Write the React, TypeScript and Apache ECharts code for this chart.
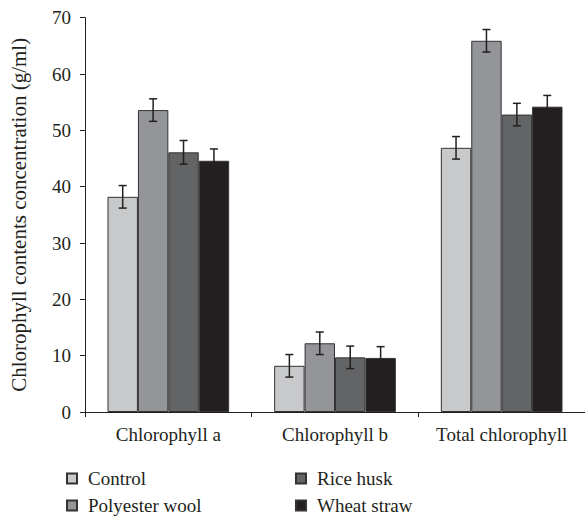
import React, { useEffect, useRef } from "react";
import * as echarts from "echarts";

const categories = ["Chlorophyll a", "Chlorophyll b", "Total chlorophyll"];
const seriesNames = ["Control", "Polyester wool", "Rice husk", "Wheat straw"];
const legendOrder = ["Control", "Rice husk", "Polyester wool", "Wheat straw"];
const control = [38.2, 8.2, 46.9];
const polyester = [53.6, 12.2, 65.9];
const riceHusk = [46.1, 9.7, 52.8];
const wheatStraw = [44.6, 9.6, 54.2];
const controlErr = [2.0, 2.0, 2.0];
const polyesterErr = [2.0, 2.0, 2.0];
const riceHuskErr = [2.1, 2.0, 2.0];
const wheatStrawErr = [2.1, 2.0, 2.0];
const yTicks = [0, 10, 20, 30, 40, 50, 60, 70];

const colors = ["#c8c9cb", "#939598", "#636466", "#231f20"];
const INK = "#231f20";
const FONT = "'Liberation Serif', 'DejaVu Serif', serif";
const CAT_GAP = 0.27;

export default function App() {
  const ref = useRef<HTMLDivElement>(null);
  useEffect(() => {
    if (!ref.current) return;
    const chart = echarts.init(ref.current, null, { renderer: "svg" });
    const values = [control, polyester, riceHusk, wheatStraw];
    const errs = [controlErr, polyesterErr, riceHuskErr, wheatStrawErr];
    const errData: number[][] = [];
    values.forEach((vals, si) => {
      vals.forEach((v, ci) => errData.push([ci, si, v, errs[si][ci]]));
    });
    const barSeries = seriesNames.map((name, i) => ({
      name,
      type: "bar",
      data: values[i],
      barGap: "0%",
      barCategoryGap: `${CAT_GAP * 100}%`,
      itemStyle: { color: colors[i], borderColor: "#333333", borderWidth: 1 },
      emphasis: { disabled: true },
    }));
    chart.setOption({
      animation: false,
      backgroundColor: "#ffffff",
      textStyle: { fontFamily: FONT, color: INK },
      grid: { left: 74, right: 0, top: 17.7, bottom: 105 },
      legend: {
        data: legendOrder,
        orient: "horizontal",
        left: 66,
        top: 469,
        width: 470,
        padding: 0,
        itemWidth: 10,
        itemHeight: 10,
        itemGap: 8,
        icon: "rect",
        selectedMode: false,
        textStyle: {
          fontFamily: FONT,
          fontSize: 19,
          color: INK,
          lineHeight: 19,
          width: 199,
          padding: [0, 0, 0, 6],
        },
      },
      xAxis: {
        type: "category",
        data: categories,
        axisLine: { lineStyle: { color: INK, width: 1 } },
        axisTick: { show: true, length: 5, lineStyle: { color: INK } },
        axisLabel: { fontFamily: FONT, fontSize: 19, color: INK, margin: 13, interval: 0 },
      },
      yAxis: {
        type: "value",
        min: 0,
        max: 70,
        interval: 10,
        name: "Chlorophyll contents concentration (g/ml)",
        nameLocation: "middle",
        nameGap: 56,
        nameTextStyle: { fontFamily: FONT, fontSize: 21, color: INK },
        axisLine: { show: true, lineStyle: { color: INK, width: 1 } },
        axisTick: { show: true, length: 5, lineStyle: { color: INK } },
        axisLabel: {
          fontFamily: FONT,
          fontSize: 19,
          color: INK,
          margin: 14,
          formatter: (v: number) => (yTicks.includes(v) ? String(v) : ""),
        },
        splitLine: { show: false },
      },
      series: [
        ...barSeries,
        {
          type: "custom",
          name: "err",
          data: errData,
          encode: { x: 0, y: 2 },
          z: 10,
          silent: true,
          renderItem: (params: any, api: any) => {
            const ci = api.value(0);
            const si = api.value(1);
            const mean = api.value(2);
            const err = api.value(3);
            const band = api.size([1, 0])[0];
            const bw = (band * (1 - CAT_GAP)) / 4;
            const cx = api.coord([ci, 0])[0] + (si - 1.5) * bw;
            const yTop = api.coord([ci, mean + err])[1];
            const yBot = api.coord([ci, mean - err])[1];
            const cap = 4;
            const style = { stroke: INK, lineWidth: 1.5 };
            return {
              type: "group",
              children: [
                { type: "line", shape: { x1: cx, y1: yTop, x2: cx, y2: yBot }, style },
                { type: "line", shape: { x1: cx - cap, y1: yTop, x2: cx + cap, y2: yTop }, style },
                { type: "line", shape: { x1: cx - cap, y1: yBot, x2: cx + cap, y2: yBot }, style },
              ],
            };
          },
        },
      ],
    });
    return () => chart.dispose();
  }, []);
  return <div ref={ref} style={{ width: 585, height: 517, position: "absolute", left: 0, top: 0 }} />;
}
